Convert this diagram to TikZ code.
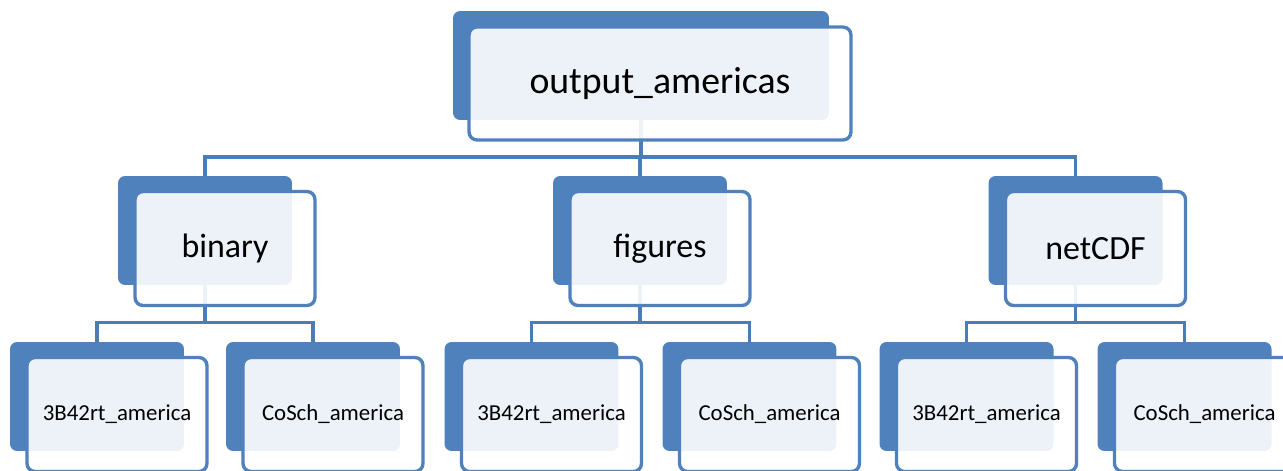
\documentclass[tikz,border=0pt]{standalone}
\usepackage{fontspec}
\setmainfont{Carlito}
\usepackage{tikz}
\usetikzlibrary{positioning}
\usepackage{xcolor}
\definecolor{accent}{HTML}{4F81BD}
\definecolor{linkblue}{HTML}{4A7CB5}

\begin{document}
\begin{tikzpicture}[x=0.02cm, y=-0.02cm,
  back/.style={fill=accent, draw=none, rounded corners=0.14cm, inner sep=0pt, minimum width=3.48cm, minimum height=2.18cm},
  front/.style={draw=accent, line width=1.9pt, fill=white, fill opacity=0.9, text opacity=1, rounded corners=0.16cm, inner sep=0pt, minimum width=3.6cm, minimum height=2.28cm},
  link/.style={draw=linkblue, line width=2.1pt},
  big/.style={font=\fontsize{21.5}{26}\selectfont},
  mid/.style={font=\fontsize{19.3}{23}\selectfont},
  small/.style={font=\fontsize{13}{16}\selectfont}]
\useasboundingbox (0,0) rectangle (1283,470);
\clip (0,0) rectangle (1283,470);
% hintere Kaesten
\node[back, minimum width=7.52cm] (root) at (641,65.5) {};
\node[back] (bin) at (205,230.5) {};
\node[back] (fig) at (640,230.5) {};
\node[back] (nc) at (1075.5,230.5) {};
\node[back] (bin3b) at (97,396.5) {};
\node[back] (binco) at (313,396.5) {};
\node[back] (fig3b) at (531.5,396.5) {};
\node[back] (figco) at (749.5,396.5) {};
\node[back] (nc3b) at (966.5,396.5) {};
\node[back] (ncco) at (1184.5,396.5) {};
% Verbindungen
\draw[link] (root.south) -- ++(0,37) -| (bin.north);
\draw[link] (root.south) -- ++(0,37) -| (fig.north);
\draw[link] (root.south) -- ++(0,37) -| (nc.north);
\draw[link] (bin.south) -- ++(0,37) -| (bin3b.north);
\draw[link] (bin.south) -- ++(0,37) -| (binco.north);
\draw[link] (fig.south) -- ++(0,37) -| (fig3b.north);
\draw[link] (fig.south) -- ++(0,37) -| (figco.north);
\draw[link] (nc.south) -- ++(0,37) -| (nc3b.north);
\draw[link] (nc.south) -- ++(0,37) -| (ncco.north);
% vordere Kaesten mit Text
\node[front, big, minimum width=7.64cm, minimum height=2.26cm] (root-f) at ([shift={(19,18)}]root.center) {output\_americas};
\node[front, mid] (bin-f) at ([shift={(20,18)}]bin.center) {binary};
\node[front, mid] (fig-f) at ([shift={(20,18)}]fig.center) {figures};
\node[front, mid] (nc-f) at ([shift={(20,18)}]nc.center) {netCDF};
\node[front, small] (bin3b-f) at ([shift={(20,18)}]bin3b.center) {3B42rt\_america};
\node[front, small] (binco-f) at ([shift={(20,18)}]binco.center) {CoSch\_america};
\node[front, small] (fig3b-f) at ([shift={(20,18)}]fig3b.center) {3B42rt\_america};
\node[front, small] (figco-f) at ([shift={(20,18)}]figco.center) {CoSch\_america};
\node[front, small] (nc3b-f) at ([shift={(20,18)}]nc3b.center) {3B42rt\_america};
\node[front, small] (ncco-f) at ([shift={(20,18)}]ncco.center) {CoSch\_america};
\end{tikzpicture}
\end{document}
